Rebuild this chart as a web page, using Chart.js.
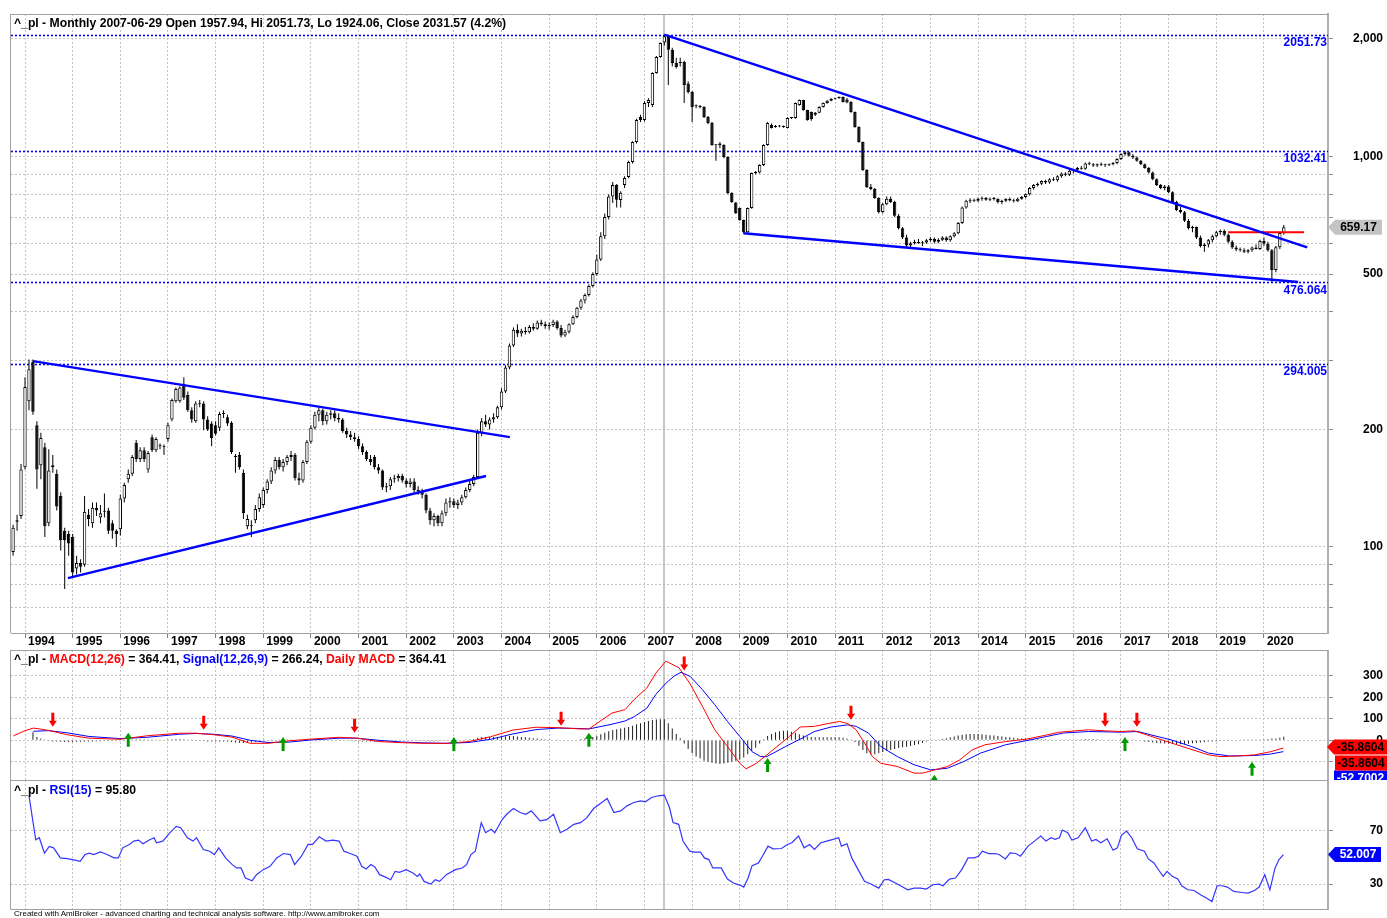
<!DOCTYPE html>
<html>
<head>
<meta charset="utf-8">
<title>^_pl Monthly</title>
<script src="https://cdn.jsdelivr.net/npm/chart.js@4.4.1/dist/chart.umd.min.js"></script>
<style>
html,body{margin:0;padding:0;background:#fff;}
body{width:1387px;height:918px;overflow:hidden;position:relative;font-family:"Liberation Sans",Arial,sans-serif;}
canvas{position:absolute;left:0;}
.ttl{position:absolute;left:14px;font-weight:bold;font-size:12.2px;line-height:14px;white-space:nowrap;color:#000;z-index:2;}
.r{color:#ff0000;} .b{color:#0000ff;}
.foot{position:absolute;left:14px;top:909px;font-size:8px;line-height:10px;color:#000;white-space:nowrap;}
</style>
</head>
<body>
<canvas id="pricePane" width="1387" height="650" style="top:0"></canvas>
<canvas id="macdPane" width="1387" height="130" style="top:650px"></canvas>
<canvas id="rsiPane" width="1387" height="130" style="top:780px"></canvas>
<div class="ttl" style="top:16px">^_pl - Monthly 2007-06-29 Open 1957.94, Hi 2051.73, Lo 1924.06, Close 2031.57 (4.2%)</div>
<div class="ttl" style="top:652px">^_pl - <span class="r">MACD(12,26)</span> = 364.41, <span class="b">Signal(12,26,9)</span> = 266.24, <span class="r">Daily MACD</span> = 364.41</div>
<div class="ttl" style="top:783px">^_pl - <span class="b">RSI(15)</span> = 95.80</div>
<div class="foot">Created with AmiBroker - advanced charting and technical analysis software. http://www.amibroker.com</div>
<script>
// ---------------- DATA ----------------
// month index 0 = Jan 1994; first bar = Oct 1993 (index -3)
const firstIdx = -3;
const yearLabels = ['1994','1995','1996','1997','1998','1999','2000','2001','2002','2003','2004','2005','2006','2007','2008','2009','2010','2011','2012','2013','2014','2015','2016','2017','2018','2019','2020'];

const opens = [
 97,116,120,
 160,236,298,205,162,180,115,160,154,135,110,108,
 106,88,91,90,121,115,126,119,123,124,115,110,
 111,133,149,154,185,168,177,158,191,177,181,181,
 189,212,236,236,262,245,224,210,233,233,212,207,
 205,202,219,215,208,171,172,155,113,113,117,125,
 128,140,147,157,167,160,165,170,172,150,148,165,
 186,202,218,224,210,218,220,214,212,198,194,191,
 189,181,175,168,170,160,157,142,143,149,150,152,
 148,145,147,140,139,136,124,117,120,115,122,130,
 131,128,130,134,140,145,151,196,210,206,212,215,
 228,250,288,328,360,352,358,355,366,362,376,372,
 368,370,378,364,348,356,372,388,410,428,442,466,
 500,545,625,700,790,845,774,845,886,968,1089,1263,
 1240,1371,1355,1637,1799,1957.94,2024,1877,1736,1745,1745,1539,
 1464,1347,1345,1339,1263,1218,1070,1068,1070,997,806,762,
 738,688,640,738,907,910,951,1070,1204,1190,1197,1193,
 1183,1255,1255,1355,1396,1315,1300,1280,1295,1339,1371,1390,
 1405,1412,1420,1400,1379,1300,1190,1089,923,835,826,783,
 721,755,780,765,705,655,620,592,600,605,600,602,
 610,615,605,612,620,610,625,636,676,740,770,775,
 770,780,784,775,780,778,765,770,778,772,768,780,
 788,800,830,845,852,865,858,875,870,890,905,898,
 920,925,935,930,960,955,948,955,952,950,955,962,
 985,1015,1025,1005,995,975,955,935,910,875,845,830,
 838,810,765,730,720,685,655,660,620,590,595,610,
 625,640,645,630,605,585,578,575,570,575,585,580,
 608,598,575,512,586,637];

const highs = [
 114,121,163,
 272,302,302,210,196,185,178,172,158,138,112,110,
 108,95,93,135,125,130,130,128,137,126,117,111,
 136,146,158,172,188,180,180,176,194,191,184,183,
 208,240,256,258,272,250,228,236,238,236,216,210,
 210,222,224,218,210,173,175,158,121,117,128,137,
 142,149,160,170,170,168,172,176,174,155,167,188,
 205,222,228,226,222,224,224,220,214,202,198,196,
 192,184,177,172,172,163,158,146,151,153,154,154,
 150,150,150,143,141,137,126,122,121,124,133,134,
 133,132,136,142,148,153,200,214,218,215,220,230,
 255,292,332,365,372,362,366,370,374,380,382,378,
 376,382,381,370,360,374,392,412,432,446,470,505,
 560,640,715,800,860,850,815,890,975,1095,1250,1280,
 1385,1410,1645,1810,1960,2051.73,2040,1900,1790,1790,1760,1560,
 1470,1360,1355,1345,1270,1225,1075,1090,1075,1000,810,765,
 740,690,740,910,918,955,1075,1225,1215,1205,1205,1200,
 1260,1262,1375,1400,1398,1318,1305,1300,1345,1375,1395,1410,
 1415,1425,1425,1412,1385,1305,1195,1092,928,850,830,786,
 760,790,790,770,712,660,630,605,612,615,608,615,
 622,620,618,625,625,628,640,680,745,775,782,780,
 785,790,788,785,788,782,775,782,785,780,785,792,
 805,835,850,858,870,872,880,885,895,910,912,925,
 930,940,945,965,970,962,960,965,958,960,968,990,
 1020,1032.41,1030,1015,1000,980,960,940,915,880,850,845,
 845,815,770,742,725,692,665,662,628,600,615,630,
 645,650,650,635,610,592,585,582,580,588,595,612,
 620,605,580,590,640,668];

const lows = [
 95,110,118,
 158,224,218,141,149,106,113,155,124,98,78,95,
 84,85,86,89,113,112,120,115,119,108,105,100,
 107,130,146,152,165,165,165,155,175,175,178,172,
 186,210,234,234,238,222,208,208,228,199,198,181,
 193,198,214,204,173,155,158,118,111,106,115,123,
 126,137,145,154,158,156,162,166,148,144,146,163,
 184,200,210,205,206,212,210,208,196,190,188,186,
 178,172,166,162,158,154,140,138,140,146,147,146,
 142,142,138,136,133,122,114,113,113,113,120,126,
 126,125,128,133,138,143,150,192,203,200,208,213,
 225,248,285,325,345,346,350,352,358,360,368,362,
 360,366,360,344,345,352,370,385,405,420,438,462,
 495,540,615,690,760,740,740,830,880,960,1080,1225,
 1230,1340,1340,1630,1790,1924.06,1525,1700,1680,1700,1371,1450,
 1226,1330,1330,1255,1210,1065,976,1050,990,800,760,712,
 685,635,632,735,900,905,945,1065,1180,1185,1188,1185,
 1180,1248,1250,1350,1310,1235,1235,1270,1290,1335,1365,1385,
 1400,1405,1375,1370,1295,1185,1085,918,830,820,780,715,
 715,750,760,700,650,615,585,586,595,598,590,598,
 605,600,600,608,605,605,620,632,672,735,760,765,
 765,770,770,768,772,758,755,765,768,762,765,775,
 782,795,822,838,845,850,852,865,862,882,890,892,
 905,915,925,925,950,940,940,945,940,945,950,955,
 980,1005,1000,985,970,950,930,905,870,840,825,820,
 805,760,725,715,680,650,640,615,585,570,585,602,
 620,630,625,600,580,572,570,566,565,570,578,576,
 590,570,476.064,505,580,630];

const closes = [
 112,117,158,
 257,285,222,158,190,113,157,162,127,104,104,102,
 86,91,89,123,118,126,124,122,123,110,110,108,
 133,144,154,170,168,177,168,174,177,189,181,180,
 205,238,254,256,241,224,212,233,232,212,200,190,
 195,219,220,207,175,170,160,122,118,113,125,134,
 140,147,157,167,160,165,170,172,150,148,165,186,
 202,218,224,210,218,220,214,212,198,194,191,189,
 181,175,168,165,160,157,142,143,149,150,152,148,
 145,147,140,139,136,124,117,120,115,122,130,131,
 128,130,134,140,145,151,196,210,206,212,215,228,
 250,288,328,360,352,358,355,366,362,376,372,368,
 370,378,364,348,356,372,388,410,428,442,466,500,
 545,625,700,790,845,775,808,881,968,1089,1240,1240,
 1371,1395,1637,1799,1953,2031.57,1877,1736,1696,1736,1525,1464,
 1339,1345,1339,1263,1218,1070,1068,1080,997,806,765,717,
 688,640,738,907,910,951,1070,1218,1183,1197,1193,1190,
 1255,1255,1371,1396,1315,1240,1245,1295,1339,1371,1390,1405,
 1412,1420,1379,1375,1300,1190,1089,923,835,826,783,721,
 755,780,765,705,655,620,592,600,605,600,602,610,
 615,605,612,620,610,625,636,676,740,770,775,770,
 780,784,775,780,778,765,770,778,772,768,780,788,
 800,830,845,852,865,858,875,870,890,905,898,920,
 925,935,930,960,955,948,955,952,950,955,962,985,
 1015,1025,1005,995,975,955,935,910,875,845,830,838,
 810,765,730,720,685,655,660,620,590,595,610,625,
 640,645,630,605,585,578,575,570,575,585,580,608,
 598,575,512,586,637,659.17];

// Drawn trend lines (month index, price)
const trendTop1994 = [{x:2.0,y:299.2},{x:122.1,y:191.1}];
const trendBottom1994 = [{x:10.8,y:83.2},{x:116.1,y:151.9}];
const trendTop2007 = [{x:161.0,y:2051.73},{x:322.9,y:585}];
const trendBottom2009 = [{x:180.9,y:635.6},{x:320.6,y:477}];
const resistance2020 = [{x:303,y:639.5},{x:322.1,y:639.5}];
const levelValues = [2051.73, 1032.41, 476.064, 294.005];
const levelLabels = ['2051.73','1032.41','476.064','294.005'];
const priceGrid = [70,80,90,100,200,300,400,500,600,700,800,900,1000,2000];
const priceLabels = [100,200,500,1000,2000];
const selectedIdx = 161;
const lastPrice = 659.17;

// MACD (month index, value)
const macdPts = [[-2.9,21],[0,45],[2.1,57],[4,52],[6,46],[10.6,26],[16.1,10],[23.9,5],[30.7,21],[38.7,33],[43.1,33],[47.6,26],[52.1,15],[56.7,-14],[61.2,-14],[66.7,-2],[72.3,6],[79.1,14],[83.6,10],[89.1,-6],[94.9,-11],[100.5,-14],[106,-14],[111.8,-6],[117.3,17],[122.9,48],[128.7,61],[134.2,59],[139.8,53],[142,53],[147.8,127],[151.1,143],[153.4,190],[156.6,244],[158.9,314],[161.4,369],[164.7,338],[167.5,263],[170.6,158],[173.7,49],[176.9,-29],[180,-107],[181.6,-133],[184.2,-107],[186.8,-68],[189.4,-29],[192.5,18],[195.2,62],[198.8,65],[201.9,77],[205.1,88],[207.2,78],[209.3,49],[211.4,-12],[213.4,-76],[215.5,-107],[219.7,-122],[223.9,-153],[226,-153],[229.1,-138],[232.3,-122],[235.4,-91],[238.5,-45],[241.7,-21],[246.9,-6],[252.1,5],[256.3,21],[260.5,38],[267.8,49],[271.9,44],[276.1,41],[279.3,44],[282.4,26],[287.6,-6],[292.8,-37],[298.1,-68],[301.2,-76],[305.4,-73],[309.6,-68],[313.7,-53],[316.9,-35.86]];
const signalPts = [[2.1,42],[6,45],[10.6,35],[16.1,18],[23.9,8],[30.7,14],[38.7,28],[43.1,32],[47.6,28],[52.1,20],[56.7,0],[61.2,-10],[66.7,-8],[72.3,2],[79.1,10],[83.6,10],[89.1,0],[94.9,-8],[100.5,-12],[106,-14],[111.8,-10],[117.3,5],[122.9,30],[128.7,50],[134.2,57],[139.8,55],[142,53],[147.8,75],[151.1,90],[153.4,110],[156.6,150],[158.9,215],[161.4,266],[163.5,300],[165.2,317],[167.5,298],[170.6,236],[173.7,166],[176.9,88],[180,18],[183.1,-53],[185.3,-76],[186.8,-76],[188.4,-60],[191.5,-29],[195.7,10],[198.8,41],[203,62],[207.2,72],[209.3,65],[212.4,34],[215.5,-29],[219.7,-76],[223.9,-114],[228.1,-138],[232.3,-130],[236.4,-99],[240.6,-60],[246.9,-21],[253.1,2],[257.3,18],[261.5,34],[267.8,41],[276.1,38],[280.3,41],[283.4,26],[288.6,2],[293.8,-29],[298.1,-60],[303.3,-73],[309.6,-71],[313.7,-64],[316.9,-52.7]];
// histogram, one value per month from Oct 1993
const histVals = [
 null,null,null,null,null,
 38,15,8,2,
 -3,-5,-6,-7,-8,-8,
 -8,-7,-7,-6,-5,-5,-4,-4,-3,-3,-3,-2,
 1,2,3,4,5,5,5,4,4,3,3,3,
 4,5,6,6,5,3,1,0,-1,-3,-5,-6,
 -6,-5,-5,-6,-8,-10,-11,-12,-12,-10,-7,-4,
 -2,0,2,3,4,5,5,4,3,2,3,4,
 5,6,6,5,4,4,3,2,0,-2,-3,-4,
 -5,-6,-6,-6,-6,-6,-6,-5,-4,-3,-2,-2,
 -2,-2,-2,-3,-3,-4,-5,-5,-4,-3,-1,0,
 1,2,3,4,5,6,12,15,16,16,16,16,
 17,18,20,20,18,16,14,12,10,8,6,5,
 4,3,2,0,-2,-2,0,3,6,9,12,15,
 20,28,35,42,48,52,55,58,62,68,75,80,
 85,90,95,97,98,98,80,55,30,10,-15,-40,
 -60,-75,-85,-95,-100,-105,-108,-110,-108,-105,-100,-95,
 -90,-80,-65,-50,-35,-15,5,20,30,38,42,45,
 44,40,35,28,22,18,16,14,14,14,14,14,
 14,14,12,8,2,-8,-25,-45,-60,-65,-65,-60,
 -55,-50,-45,-40,-36,-32,-30,-26,-22,-18,-12,-6,
 -2,1,4,7,10,14,18,22,26,28,30,30,
 29,28,26,24,22,20,18,16,14,12,10,9,
 8,7,6,6,5,5,4,3,3,2,2,2,
 3,4,5,6,6,6,5,4,3,2,1,0,
 0,2,3,2,0,-2,-5,-8,-10,-12,-14,-15,
 -16,-17,-18,-18,-17,-16,-14,-12,-10,-8,-6,-5,
 -4,-3,-2,-1,0,0,1,1,1,1,2,2,
 4,6,8,8,12,16.8];
const sellSignals = [[7,63],[45,49],[83,35],[135,68],[166,325],[208,96],[272,63],[280,63]];
const buySignals = [[26,35],[65,16],[108,16],[142,35],[187,-82],[229,-161],[277,16],[309,-100]];
const macdGrid = [-100,0,100,200,300];
const macdLabels = [0,100,200,300];
const macdFlags = [[-35.8604,'-35.8604'],[-35.8604,'-35.8604'],[-52.7002,'-52.7002']];

// RSI(15) (month index, value)
const rsiPts = [[1.0,95.8],[2.7,63],[3.6,64.5],[4.9,53],[6.1,58],[7.2,57],[8.9,49.5],[10.6,49],[12.3,48],[13.9,47],[15.1,52],[16.2,53],[17.3,52],[19,54],[20.7,52],[22.4,49.5],[23.5,49.5],[24.6,57],[26.3,59.5],[27.4,62],[28.6,62.75],[29.7,60],[31.4,63],[32.5,64.5],[33.1,60.75],[34.7,62],[36.4,68],[38.1,73],[39.2,72],[40.9,64.5],[42.3,62],[43.2,64.5],[44.9,55.75],[46.5,54.5],[47.7,52],[48.8,57],[50.5,49.5],[52.2,44.5],[53.3,42],[54.4,42],[55.5,34.5],[57.2,32.5],[58.3,37],[60,40.75],[61.7,43.25],[63.4,49.5],[65.1,52.75],[66.8,52],[67.9,44.5],[69.6,50.75],[71.3,59.5],[72.4,59.5],[74.1,65.25],[75.8,62],[77.5,62.75],[79.1,62],[80.3,54.5],[81.9,52.75],[83.6,50.75],[84.8,43.25],[85.9,41.25],[87.1,44.5],[88.1,42.75],[89.3,37],[90.4,35.75],[92.1,33.25],[93.2,39.5],[94.3,38.75],[96,40.75],[97.7,38.25],[98.8,35.75],[99.4,37.5],[100.5,32],[102.2,30],[103.3,33.25],[104.4,32],[106.1,37],[108.4,40.75],[110.1,42],[111.2,44.5],[112.3,52],[113.4,54.5],[114.9,75.75],[116,68.25],[117.4,70.75],[118.3,68.25],[120.2,78.25],[121.3,82],[123,86.25],[124.7,83.25],[126.1,82],[127.5,84.5],[129.7,77],[131.4,78],[133.1,82],[134.8,68.25],[136.5,70.75],[138.2,74.5],[139.9,75.75],[141.5,79.5],[143.2,86.25],[145.5,91.25],[146.6,93.75],[148.3,83.25],[150,84.5],[151.6,88.25],[153.3,90.75],[155,92],[156.2,91.25],[157.8,94.5],[159.5,95.75],[161,96.25],[162.3,87],[163.2,75.75],[164.6,74.5],[165.7,62],[167.4,54.5],[168.5,53.75],[170.1,53.75],[171.1,49.5],[172.2,48.25],[173.2,42],[175.3,42],[176.9,33.75],[178.4,30.75],[180,29.25],[181,27.75],[182.1,34.5],[183.1,43.75],[184.7,45.75],[185.7,50.75],[187.1,58.25],[188.4,56.25],[190.5,56.5],[192,59.5],[193.1,60.75],[194.8,65.75],[196.2,57],[197.6,59.5],[198.8,55.75],[200.4,60.75],[201.9,62],[203.5,63.25],[204.9,64.5],[205.6,58.25],[207,60],[208.2,49.5],[209.8,40.75],[211.4,32],[212.9,30.25],[215,27],[216.4,33.25],[217.4,33.5],[219.2,30.75],[220.8,28.25],[222.3,25.75],[223.9,27],[225.5,27],[227,26.25],[228.6,29.5],[230.2,30],[231.2,28.75],[232.8,33.75],[234.3,34.5],[235.9,40.75],[237.5,49.5],[239,49.5],[240.1,50.75],[241.1,54.5],[242.7,52.75],[244.3,52.75],[245.3,52],[246.9,48.75],[248.1,53.25],[249.5,52.75],[250.7,50.75],[252.6,58.25],[254.2,62],[255.8,65.75],[257.1,62],[258.4,64.5],[259.4,63.25],[260.5,64.5],[261.2,70.25],[262.6,68.25],[263.6,62.75],[265.2,64.5],[267,72],[268.6,62],[269.7,63.25],[270.9,60.75],[272.5,63.75],[274,55.25],[275.1,57],[276.1,66.25],[277.4,69.5],[278.7,64.5],[280.1,56.25],[281.9,54.5],[282.9,48.75],[284.3,45.75],[285.3,41.25],[286.6,35.75],[287.6,39.5],[288.9,35.75],[290.3,33.75],[291.3,28.75],[292.8,25.75],[294.4,25.25],[296,22],[297.6,19.5],[298.9,17],[300.2,28.75],[301.4,28.75],[302.8,27.75],[304.4,24.5],[306.4,23.75],[308,23.25],[309.6,25.25],[310.8,27.75],[312.2,37],[313.5,25.75],[314.8,42],[315.8,48.25],[316.9,52.0]];
const rsiGrid = [30,70];
const rsiLast = [52.007,'52.007'];

// ---------------- CHECKS ----------------
[opens,highs,lows,histVals].forEach(a => { if (a.length !== closes.length) throw new Error('length mismatch ' + a.length + ' vs ' + closes.length); });

// ---------------- LAYOUT ----------------
const xMin = -3.526, xMax = 328.13;
const FONT = '"Liberation Sans", Arial, sans-serif';
Chart.defaults.font.family = FONT;
Chart.defaults.font.size = 12;
Chart.defaults.font.weight = 'bold';
Chart.defaults.color = '#000';
const GRID = '#c4c4c4';
const yearTicks = yearLabels.map((_, k) => k * 12);

function xAxis(showLabels) {
  return {
    type: 'linear', min: xMin, max: xMax, offset: false,
    afterBuildTicks: s => { s.ticks = yearTicks.map(v => ({value: v})); },
    ticks: { display: showLabels, autoSkip: false, maxRotation: 0, minRotation: 0, align: 'start', padding: -4, labelOffset: 3,
      callback: v => yearLabels[yearTicks.indexOf(v)] },
    grid: { color: GRID, lineWidth: 1, offset: false, drawTicks: showLabels, tickLength: 5, tickColor: '#808080' },
    border: { display: showLabels, color: '#a0a0a0', width: 1, dash: [2, 2] },
    afterFit: s => { s.height = showLabels ? 17 : 0; s.paddingLeft = 0; s.paddingRight = 0; }
  };
}
function yAxis(type, min, max, grid, labels, pad, fmt) {
  return {
    type, position: 'right', min, max,
    afterBuildTicks: s => { s.ticks = grid.map(v => ({value: v})); },
    ticks: { autoSkip: false, crossAlign: 'far', padding: pad,
      callback: v => labels.includes(v) ? fmt(v) : '' },
    grid: { color: GRID, lineWidth: 1, drawTicks: true, tickLength: 5, tickColor: '#909090' },
    border: { display: true, color: '#b0b0b0', width: 2, dash: [2, 2] },
    afterFit: s => { s.width = 55; s.paddingTop = 0; s.paddingBottom = 0; }
  };
}
function baseOptions(scales, top) {
  return {
    responsive: false, animation: false, devicePixelRatio: 1,
    layout: { padding: { left: 11, right: 4, top: top, bottom: 0 } },
    plugins: { legend: { display: false }, tooltip: { enabled: false } },
    scales
  };
}
function vline(ctx, x, y1, y2) { ctx.beginPath(); ctx.moveTo(x, y1); ctx.lineTo(x, y2); ctx.stroke(); }
function hline(ctx, x1, x2, y) { ctx.beginPath(); ctx.moveTo(x1, y); ctx.lineTo(x2, y); ctx.stroke(); }
function frame(chart, bottom) {
  const {ctx, chartArea: a} = chart;
  ctx.save(); ctx.strokeStyle = '#a0a0a0'; ctx.lineWidth = 1;
  vline(ctx, a.left - 0.5, a.top, a.bottom);
  hline(ctx, a.left - 1, a.right, a.top + 0.5);
  if (bottom) hline(ctx, a.left - 1, a.right, a.bottom - 0.5);
  ctx.restore();
}
function selLine(chart) {
  const {ctx, chartArea: a, scales: {x}} = chart;
  ctx.save(); ctx.strokeStyle = '#b4b4b4'; ctx.lineWidth = 1.5;
  vline(ctx, Math.round(x.getPixelForValue(selectedIdx)), a.top, a.bottom);
  ctx.restore();
}
function flag(ctx, xTip, yc, xEnd, text, bg, fg, pointed) {
  const h = 15, xb = xTip + 7;
  ctx.save();
  ctx.fillStyle = bg;
  ctx.beginPath();
  if (pointed) {
    ctx.moveTo(xTip, yc); ctx.lineTo(xb, yc - h / 2); ctx.lineTo(xEnd, yc - h / 2);
    ctx.lineTo(xEnd, yc + h / 2); ctx.lineTo(xb, yc + h / 2); ctx.closePath();
  } else {
    ctx.rect(xb, yc - h / 2, xEnd - xb, h);
  }
  ctx.fill();
  ctx.fillStyle = fg; ctx.font = 'bold 12px ' + FONT; ctx.textAlign = 'center'; ctx.textBaseline = 'middle';
  ctx.fillText(text, (xb + xEnd) / 2, yc + 0.5);
  ctx.restore();
}
function arrow(ctx, x, yTip, dir, color) {
  // dir = 1: pointing down (tip at bottom); dir = -1: pointing up
  ctx.save(); ctx.fillStyle = color; ctx.beginPath();
  ctx.moveTo(x, yTip);
  ctx.lineTo(x - 4, yTip - 6 * dir); ctx.lineTo(x - 1.5, yTip - 6 * dir);
  ctx.lineTo(x - 1.5, yTip - 14 * dir); ctx.lineTo(x + 1.5, yTip - 14 * dir);
  ctx.lineTo(x + 1.5, yTip - 6 * dir); ctx.lineTo(x + 4, yTip - 6 * dir);
  ctx.closePath(); ctx.fill(); ctx.restore();
}

// ---------------- PRICE PANE ----------------
const idx = closes.map((_, k) => k + firstIdx);
const wickData = idx.map((i, k) => ({x: i, y: [lows[k], highs[k]]}));
const bodyData = idx.map((i, k) => ({x: i, y: [opens[k], closes[k]]}));
const bodyColors = closes.map((c, k) => c >= opens[k] ? '#ffffff' : '#000000');
const lineDs = (pts, color, w) => ({ type: 'line', data: pts, borderColor: color, borderWidth: w, pointRadius: 0, tension: 0, order: 1 });

const pricePlugin = {
  id: 'pricePlugin',
  beforeDatasetsDraw(chart) {
    const {ctx, chartArea: a, scales: {y}} = chart;
    selLine(chart);
    ctx.save(); ctx.strokeStyle = '#0000ff'; ctx.lineWidth = 1.6; ctx.setLineDash([2, 2]);
    levelValues.forEach(v => hline(ctx, a.left, a.right, Math.round(y.getPixelForValue(v)) + 0.5));
    ctx.restore();
  },
  afterDatasetsDraw(chart) {
    const {ctx, chartArea: a, scales: {y}} = chart;
    ctx.save(); ctx.fillStyle = '#0000ff'; ctx.font = 'bold 12px ' + FONT;
    ctx.textAlign = 'right'; ctx.textBaseline = 'middle';
    levelValues.forEach((v, k) => ctx.fillText(levelLabels[k], a.right - 1, y.getPixelForValue(v) + 8));
    ctx.restore();
  },
  afterDraw(chart) {
    const {ctx, chartArea: a, scales: {y}} = chart;
    frame(chart, false);
    flag(ctx, a.right, y.getPixelForValue(lastPrice), 1382, lastPrice.toFixed(2), '#c4c4c4', '#000', true);
  }
};

new Chart(document.getElementById('pricePane'), {
  type: 'bar',
  data: { datasets: [
    { type: 'bar', data: wickData, backgroundColor: '#000', barThickness: 1, grouped: false, order: 3, inflateAmount: 0 },
    { type: 'bar', data: bodyData, backgroundColor: bodyColors, borderColor: '#000', borderWidth: 1, borderSkipped: false,
      barPercentage: 0.85, categoryPercentage: 1, grouped: false, order: 2, minBarLength: 1, inflateAmount: 0 },
    lineDs(trendTop1994, '#0000ff', 2.5),
    lineDs(trendBottom1994, '#0000ff', 2.5),
    lineDs(trendTop2007, '#0000ff', 2.5),
    lineDs(trendBottom2009, '#0000ff', 2.5),
    lineDs(resistance2020, '#ff0000', 2)
  ]},
  options: baseOptions({
    x: xAxis(true),
    y: yAxis('logarithmic', 60.2, 2317.7, priceGrid, priceLabels, 20, v => v.toLocaleString('en-US'))
  }, 14),
  plugins: [pricePlugin]
});

// ---------------- MACD PANE ----------------
const macdPlugin = {
  id: 'macdPlugin',
  beforeDatasetsDraw(chart) { selLine(chart); },
  afterDatasetsDraw(chart) {
    const {ctx, scales: {x, y}} = chart;
    sellSignals.forEach(([i, v]) => arrow(ctx, x.getPixelForValue(i), y.getPixelForValue(v), 1, '#ff0000'));
    buySignals.forEach(([i, v]) => arrow(ctx, x.getPixelForValue(i), y.getPixelForValue(v), -1, '#009a00'));
  },
  afterDraw(chart) {
    const {ctx, chartArea: a, scales: {y}} = chart;
    frame(chart, false);
    const y0 = y.getPixelForValue(macdFlags[0][0]) - 1;
    flag(ctx, a.right - 1, y0 + 31, 1387, macdFlags[2][1], '#0000ff', '#ffffff', false);
    flag(ctx, a.right, y0 + 16, 1387, macdFlags[1][1], '#ff0000', '#000', false);
    flag(ctx, a.right - 1, y0, 1387, macdFlags[0][1], '#ff0000', '#000', true);
  }
};
new Chart(document.getElementById('macdPane'), {
  type: 'bar',
  data: { datasets: [
    { type: 'bar', data: histVals.map((v, k) => ({x: k + firstIdx, y: v})), backgroundColor: '#202020', barThickness: 1, order: 3, inflateAmount: 0 },
    { type: 'line', data: signalPts.map(([i, v]) => ({x: i, y: v})), borderColor: '#0000ff', borderWidth: 1, pointRadius: 0, tension: 0, order: 2 },
    { type: 'line', data: macdPts.map(([i, v]) => ({x: i, y: v})), borderColor: '#ff0000', borderWidth: 1, pointRadius: 0, tension: 0, order: 1 }
  ]},
  options: baseOptions({
    x: xAxis(false),
    y: yAxis('linear', -185, 421, macdGrid, macdLabels, 30, v => String(v))
  }, 0),
  plugins: [macdPlugin]
});

// ---------------- RSI PANE ----------------
const rsiPlugin = {
  id: 'rsiPlugin',
  beforeDatasetsDraw(chart) { selLine(chart); },
  afterDraw(chart) {
    const {ctx, chartArea: a, scales: {y}} = chart;
    frame(chart, true);
    flag(ctx, a.right, y.getPixelForValue(rsiLast[0]), 1381, rsiLast[1], '#0000ff', '#ffffff', true);
  }
};
new Chart(document.getElementById('rsiPane'), {
  type: 'line',
  data: { datasets: [
    { data: rsiPts.map(([i, v]) => ({x: i, y: v})), borderColor: '#3535ff', borderWidth: 1.2, pointRadius: 0, tension: 0 }
  ]},
  options: baseOptions({
    x: xAxis(false),
    y: yAxis('linear', 10.7, 107.5, rsiGrid, rsiGrid, 36.7, v => String(v))
  }, 0),
  plugins: [rsiPlugin]
});
</script>
</body>
</html>
